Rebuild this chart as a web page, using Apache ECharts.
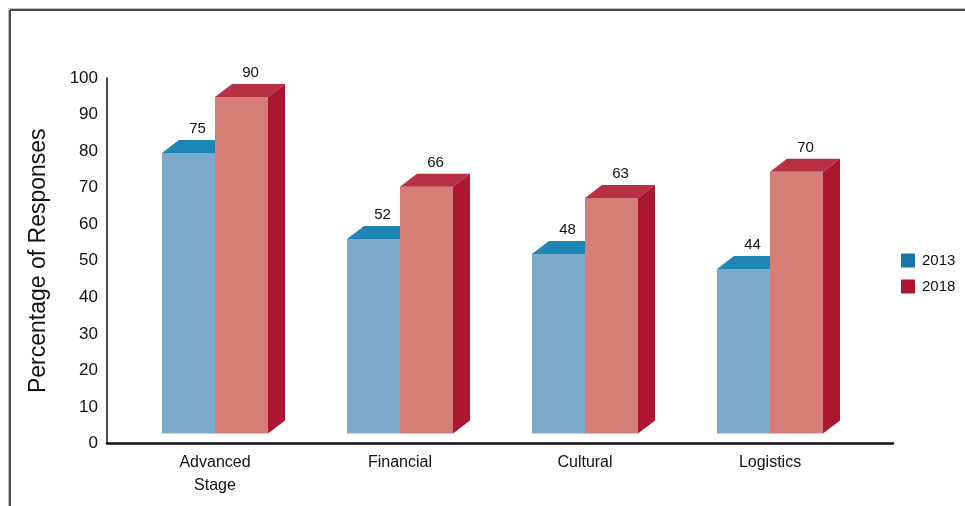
<!DOCTYPE html>
<html>
<head>
<meta charset="utf-8">
<script src="https://cdn.jsdelivr.net/npm/echarts@6/dist/echarts.min.js"></script>
<style>
  html, body { margin: 0; padding: 0; background: #fff; }
  #chart { width: 965px; height: 506px; }
</style>
</head>
<body>
<div id="chart"></div>
<script>
// Survey categories and response percentages
const categories = ['Advanced\nStage', 'Financial', 'Cultural', 'Logistics'];
const values2013 = [75, 52, 48, 44];
const values2018 = [90, 66, 63, 70];
const yTicks = [0, 10, 20, 30, 40, 50, 60, 70, 80, 90, 100];

const FONT = '"Liberation Sans", Arial, sans-serif';

// face colours for each box: front, top, side
const palette = {
  '2013': { front: '#7BAACB', top: '#1E85B4', side: '#176C96', legend: '#1A76A8' },
  '2018': { front: '#D57E78', top: '#B83046', side: '#AC1630', legend: '#AC1631' }
};

const BAR_W = 53;   // front face width
const DX = 17;      // depth offset to the right
const DY = 13;      // depth offset upward

function boxRenderer(colors, offset) {
  return function (params, api) {
    const idx = api.value(0);
    const v = api.value(1);
    const top = api.coord([idx, v]);
    const base = api.coord([idx, 0]);
    const x = top[0] + offset;
    const yt = top[1];
    const yb = base[1];
    return {
      type: 'group',
      children: [
        {
          type: 'rect',
          shape: { x: x, y: yt, width: BAR_W, height: yb - yt },
          style: { fill: colors.front }
        },
        {
          type: 'polygon',
          shape: { points: [[x, yt], [x + DX, yt - DY], [x + BAR_W + DX, yt - DY], [x + BAR_W, yt]] },
          style: { fill: colors.top }
        },
        {
          type: 'polygon',
          shape: { points: [[x + BAR_W, yt], [x + BAR_W + DX, yt - DY], [x + BAR_W + DX, yb - DY], [x + BAR_W, yb]] },
          style: { fill: colors.side }
        },
        {
          type: 'text',
          style: {
            text: String(v),
            x: x + BAR_W / 2 + 9,
            y: yt - 24,
            align: 'center',
            verticalAlign: 'middle',
            font: '15px ' + FONT,
            fill: '#111'
          }
        }
      ]
    };
  };
}

const chart = echarts.init(document.getElementById('chart'), null, { renderer: 'canvas' });

chart.setOption({
  animation: false,
  backgroundColor: '#fff',
  grid: [
    // axis frame
    { left: 107, top: 78, right: 72, height: 365.5 },
    // boxes
    { left: 122.5, right: 102.5, top: 59.5, height: 374 }
  ],
  xAxis: [
    {
      gridIndex: 0, type: 'value', min: 0, max: 1,
      axisLine: { show: true, lineStyle: { color: '#111', width: 2.5 } },
      axisTick: { show: false }, axisLabel: { show: false }, splitLine: { show: false }
    },
    {
      gridIndex: 1, type: 'category', data: categories,
      axisLine: { show: false }, axisTick: { show: false }, splitLine: { show: false },
      axisLabel: {
        margin: 18, fontSize: 16, lineHeight: 23, color: '#111', fontFamily: FONT, interval: 0
      }
    }
  ],
  yAxis: [
    {
      gridIndex: 0, type: 'value', min: 0, max: 100, interval: 10,
      name: 'Percentage of Responses', nameLocation: 'middle', nameGap: 57,
      nameTextStyle: { fontSize: 23, color: '#111', fontFamily: FONT },
      axisLine: { show: true, lineStyle: { color: '#111', width: 1.5 } },
      axisTick: { show: false }, splitLine: { show: false },
      axisLabel: {
        margin: 9, fontSize: 17, color: '#111', fontFamily: FONT,
        customValues: yTicks
      }
    },
    {
      gridIndex: 1, type: 'value', min: 0, max: 100, show: false
    }
  ],
  legend: {
    orient: 'vertical', left: 901, top: 253, padding: 0,
    itemWidth: 14, itemHeight: 14, itemGap: 11, icon: 'rect',
    textStyle: { fontSize: 15, color: '#111', fontFamily: FONT, padding: [0, 0, 0, 2] },
    data: ['2013', '2018']
  },
  series: [
    {
      name: '2013', type: 'custom', xAxisIndex: 1, yAxisIndex: 1,
      itemStyle: { color: palette['2013'].legend },
      renderItem: boxRenderer(palette['2013'], -BAR_W),
      data: values2013.map((v, i) => [i, v])
    },
    {
      name: '2018', type: 'custom', xAxisIndex: 1, yAxisIndex: 1,
      itemStyle: { color: palette['2018'].legend },
      renderItem: boxRenderer(palette['2018'], 0),
      data: values2018.map((v, i) => [i, v])
    }
  ],
  graphic: [
    { type: 'line', shape: { x1: 8.5, y1: 8.5, x2: 965, y2: 8.5 }, style: { stroke: '#bbb', lineWidth: 1 } },
    { type: 'line', shape: { x1: 8.5, y1: 8.5, x2: 8.5, y2: 506 }, style: { stroke: '#bbb', lineWidth: 1 } },
    { type: 'line', shape: { x1: 10, y1: 10, x2: 965, y2: 10 }, style: { stroke: '#111', lineWidth: 1.5 } },
    { type: 'line', shape: { x1: 10, y1: 10, x2: 10, y2: 506 }, style: { stroke: '#111', lineWidth: 1.5 } }
  ]
});
</script>
</body>
</html>
